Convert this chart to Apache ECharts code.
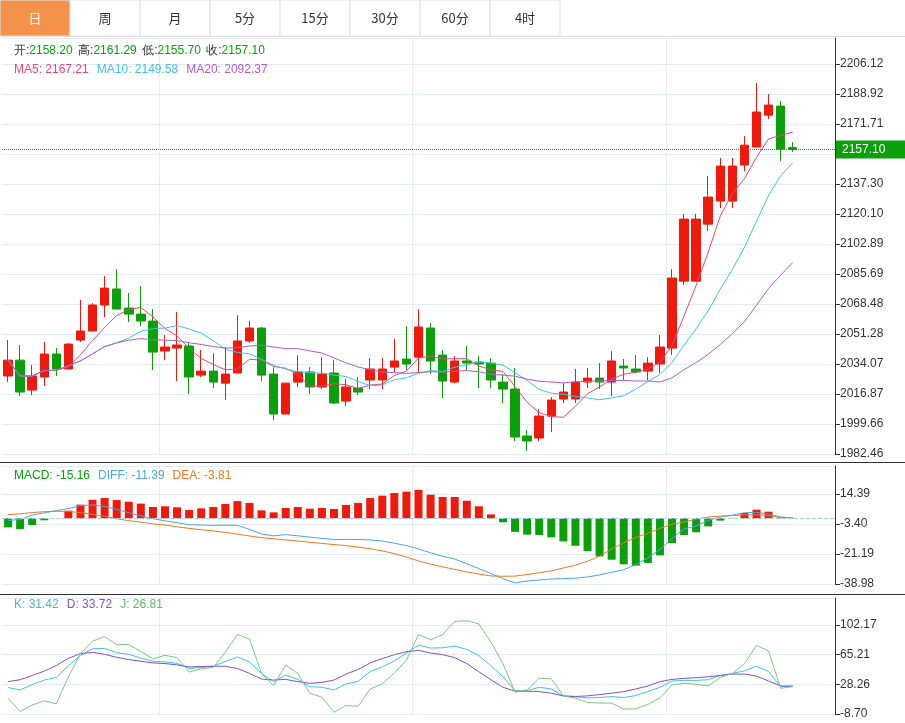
<!DOCTYPE html>
<html><head><meta charset="utf-8">
<script src="https://cdn.jsdelivr.net/npm/echarts@6/dist/echarts.min.js"></script>
<style>html,body{margin:0;padding:0;background:#fff}#chartBox{width:905px;height:723px}</style>
</head><body><div id="chartBox"></div>
<script>
// 日K 数据 [开, 收, 低, 高]
const candles = [
[2027.2,2036.3,2023.7,2047.8],[2036.3,2018.0,2015.7,2045.0],[2019.1,2027.2,2016.3,2033.5],[2026.6,2039.8,2021.4,2046.7],
[2039.8,2031.2,2027.2,2043.2],[2031.2,2045.5,2031.2,2046.1],[2047.8,2053.0,2046.7,2070.8],[2053.0,2067.9,2053.0,2069.0],
[2067.9,2077.6,2061.0,2084.5],[2077.1,2065.6,2065.6,2088.5],[2066.2,2062.7,2058.1,2074.8],[2062.7,2058.7,2055.8,2078.8],
[2058.7,2040.9,2030.6,2065.6],[2041.5,2043.8,2036.3,2050.7],[2043.2,2045.0,2024.3,2063.9],[2044.4,2026.6,2016.8,2046.7],
[2027.7,2030.0,2026.6,2042.1],[2030.0,2023.7,2020.3,2040.3],[2023.1,2028.3,2013.4,2043.8],[2028.9,2047.3,2028.9,2062.1],
[2047.3,2054.7,2046.1,2058.7],[2054.7,2027.7,2024.3,2055.3],[2028.3,2005.4,2001.9,2032.3],[2005.4,2023.1,2005.1,2023.4],
[2023.7,2029.5,2020.9,2039.2],[2029.5,2020.9,2016.8,2032.3],[2020.9,2028.3,2019.7,2038.0],[2028.9,2011.7,2011.1,2036.3],
[2012.8,2020.9,2010.0,2025.4],[2020.3,2018.0,2016.3,2026.6],[2024.9,2031.2,2019.7,2037.5],[2024.9,2031.2,2019.7,2037.5],
[2032.3,2035.8,2029.5,2048.4],[2036.9,2034.1,2030.6,2055.8],[2038.0,2055.3,2029.5,2065.6],[2054.7,2035.8,2028.3,2057.6],
[2039.2,2024.3,2014.5,2042.1],[2023.7,2035.8,2023.1,2038.6],[2035.8,2034.6,2030.6,2044.4],[2035.2,2034.1,2020.3,2038.6],
[2034.6,2024.9,2020.3,2037.5],[2023.7,2019.7,2011.7,2028.3],[2019.7,1992.2,1989.9,2031.8],[1992.8,1989.9,1984.2,1996.2],
[1991.6,2004.2,1989.9,2008.2],[2004.2,2013.4,1995.0,2015.1],[2014.0,2018.0,2011.7,2023.1],[2014.0,2023.7,2011.7,2031.2],
[2023.7,2026.0,2020.3,2031.8],[2026.0,2023.7,2019.7,2034.6],[2023.7,2035.8,2015.7,2041.5],[2032.9,2031.8,2024.9,2036.9],
[2031.2,2029.5,2028.9,2039.2],[2030.0,2034.6,2024.9,2038.0],[2034.1,2043.8,2028.9,2050.7],[2043.2,2083.4,2039.2,2088.5],
[2081.6,2117.2,2079.4,2120.1],[2081.6,2117.2,2081.6,2120.1],[2114.3,2129.8,2110.3,2141.9],[2127.5,2147.6,2123.5,2152.2],
[2127.5,2147.6,2123.5,2152.2],[2148.2,2159.6,2144.7,2164.8],[2158.5,2178.6,2158.5,2195.2],[2176.8,2182.6,2174.6,2188.9],
[2182.0,2157.3,2150.5,2184.9],[2158.2,2157.1,2155.7,2161.29]
];
// MACD 柱 / DIFF / DEA
const macdBars = [-5.4,-6.4,-4.0,-1.2,0,4.5,8.1,11.0,12.0,10.8,9.8,8.7,6.7,7.1,6.5,4.9,5.9,6.7,8.5,10.2,9.1,4.7,3.5,6.1,6.7,5.7,6.1,5.5,7.9,9.1,12.0,13.4,15.0,15.8,16.8,
14.0,12.6,12.6,10.4,7.1,2.3,-2.4,-8.1,-9.7,-9.9,-11.3,-13.7,-16.3,-19.4,-22.6,-24.6,-27.3,-28.1,-26.5,-22.0,-14.7,-9.9,-8.3,-4.8,-1.4,0.2,3.1,5.1,3.9,0.5,0.2];
const diffLine = [-1.2,-0.8,2.0,3.2,4.5,5.8,7.5,7.9,7.0,5.3,3.3,1.4,-0.3,-1.5,-2.6,-3.8,-4.0,-4.2,-4.1,-4.2,-6.6,-9.3,-10.4,-9.7,-10.4,-11.2,-11.9,-12.6,-12.5,-12.6,-12.8,-13.5,-14.8,-16.2,-18.2,
-20.5,-22.5,-24.2,-27.0,-29.8,-32.8,-35.8,-38.3,-37.2,-36.6,-36.0,-35.8,-35.5,-34.8,-33.6,-32.0,-30.5,-27.5,-23.5,-18.5,-12.0,-6.3,-4.6,-1.2,0.7,1.9,3.3,3.5,2.5,0.8,0.2];
const deaLine = [2.2,2.6,3.4,3.9,4.1,4.1,3.3,2.3,1.2,-0.3,-1.4,-2.3,-3.3,-4.0,-5.1,-6.0,-6.8,-7.5,-8.4,-9.4,-10.5,-11.5,-12.2,-12.8,-13.5,-14.2,-14.9,-15.6,-16.2,-17.1,-18.1,-19.3,-21.0,-23.0,-25.3,
-27.2,-28.8,-30.3,-31.8,-33.1,-34.2,-34.4,-34.3,-33.4,-32.3,-31.2,-29.5,-27.8,-25.5,-22.5,-18.2,-14.5,-11.5,-8.8,-6.0,-3.5,-2.2,-0.5,0.7,1.3,1.6,2.0,2.1,1.5,0.5,0.2];
// KDJ
const kLine = [24.2,21.3,27.9,33.6,36.9,51.3,64.4,72.6,73.0,67.7,65.6,61.1,57.0,56.2,54.5,48.0,49.2,50.8,56.6,62.3,56.2,41.8,31.6,39.8,34.4,25.4,24.6,21.3,28.7,32.0,44.3,50.0,57.4,67.3,77.1,
73.4,73.8,75.9,71.8,64.0,51.3,37.7,20.1,20.5,24.6,22.5,13.5,12.7,11.4,11.8,13.1,11.8,14.3,19.2,24.6,32.4,33.2,33.2,34.0,39.3,41.8,45.1,50.8,44.3,25.4,26.0];
const dLine = [31.6,34.0,39.3,44.7,51.7,60.7,66.5,68.1,65.6,61.9,59.1,57.0,55.0,54.1,52.5,50.0,50.4,50.8,50.8,48.0,41.8,34.8,33.6,34.4,31.6,29.5,30.7,33.6,41.0,46.7,55.0,60.3,65.2,68.9,70.6,
67.3,65.2,61.5,54.1,43.9,34.0,24.6,19.7,19.7,19.2,17.2,13.9,13.1,13.9,15.5,17.2,19.2,22.5,26.2,31.6,34.4,35.7,36.5,37.7,39.3,41.0,41.0,38.5,32.4,26.2,26.0];
const jLine = [11.0,-5.4,2.4,7.7,4.0,37.7,66.5,82.0,87.8,77.5,77.9,69.3,59.9,64.4,61.5,43.5,47.6,49.2,68.5,90.3,84.9,41.8,26.6,52.1,41.8,17.2,12.3,-6.6,2.0,0.8,22.5,28.7,42.6,58.2,90.3,
83.7,90.3,106.7,107.5,103.4,80.8,54.1,18.4,21.3,35.7,35.2,13.9,11.0,5.7,4.9,4.9,-2.5,-2.1,3.2,11.4,27.4,29.5,28.3,26.2,36.9,41.8,54.1,76.7,69.7,23.3,25.4];
const priceTicks = [1982.46, 17.2046];   // 起点, 间隔
const macdTicks = [-38.98, 17.79];
const kdjTicks = [-8.70, 36.957];
const tabs = ['日','周','月','5分','15分','30分','60分','4时'];

const RED = '#f01a0c', GREEN = '#0aa00a';
const closes = candles.map(c => c[1]);
const cats = closes.map((c, i) => 'd' + i).concat(['', '', '']);

//均线
function ma(n){
	return closes.map((c, i) => {
		let s = 0, k = 0;
		for (let j = Math.max(0, i - n + 1); j <= i; j++) { s += closes[j]; k++; }
		return +(s / k).toFixed(2);
	});
}

const fmt = v => v.toFixed(2);
function yAx(idx, t, max){
	return {
		type: 'value', gridIndex: idx, position: 'right', scale: true,
		min: t[0], max: max, interval: t[1],
		axisLine: { show: true, lineStyle: { color: '#333' } },
		axisTick: { show: true, lineStyle: { color: '#333' } },
		axisLabel: { color: '#333', fontSize: 12, formatter: fmt, showMaxLabel: false, margin: 5 },
		splitLine: { lineStyle: { color: '#e3ecf3' } }
	};
}
function xAx(idx){
	return {
		type: 'category', gridIndex: idx, data: cats, boundaryGap: true,
		axisLine: { show: false }, axisTick: { show: false }, axisLabel: { show: false },
		splitLine: { show: true, interval: (i) => i == 13 || i == 34 || i == 55, lineStyle: { color: '#e3ecf3' } }
	};
}
const line = (name, data, color, x, y) => ({
	name, type: 'line', data, xAxisIndex: x, yAxisIndex: y, symbol: 'none', smooth: false,
	lineStyle: { width: 1, color }, itemStyle: { color }, animation: false
});

let myChart = echarts.init(document.getElementById('chartBox'));
let tabGraphics = [{ type: 'rect', shape: { x: 0, y: 36, width: 905, height: 1 }, style: { fill: '#ddd' } }];
tabs.forEach((t, i) => {
	tabGraphics.push({ type: 'rect', shape: { x: i * 70, y: 0, width: 70, height: 36 },
		style: { fill: i == 0 ? '#f5924b' : '#fff', stroke: '#e2e2e2', lineWidth: 1 } });
	tabGraphics.push({ type: 'text', x: i * 70 + 35, y: 18,
		style: { text: t, fill: i == 0 ? '#fff' : '#333', font: '13px "Noto Sans CJK SC"', align: 'center', verticalAlign: 'middle' } });
});
const txt = (x, y, rich, text) => ({ type: 'text', x, y, z: 50, style: { text, rich, font: '12px "Noto Sans CJK SC"', verticalAlign: 'middle' } });
tabGraphics.push(
	{ type: 'rect', shape: { x: 0, y: 462, width: 905, height: 1 }, style: { fill: '#333' } },
	{ type: 'rect', shape: { x: 0, y: 594, width: 905, height: 1 }, style: { fill: '#333' } },
	txt(14, 51, { a: { fill: '#333', fontSize: 12 }, g: { fill: GREEN, fontSize: 12 } },
		'{a|开:}{g|2158.20}  {a|高:}{g|2161.29}  {a|低:}{g|2155.70}  {a|收:}{g|2157.10}'),
	txt(14, 70, { p: { fill: '#e8457c', fontSize: 12 }, c: { fill: '#3fc4dc', fontSize: 12 }, m: { fill: '#b05ccc', fontSize: 12 } },
		'{p|MA5: 2167.21}   {c|MA10: 2149.58}   {m|MA20: 2092.37}'),
	txt(14, 476, { g: { fill: GREEN, fontSize: 12 }, b: { fill: '#4aa6e6', fontSize: 12 }, o: { fill: '#f07820', fontSize: 12 } },
		'{g|MACD: -15.16}   {b|DIFF: -11.39}   {o|DEA: -3.81}'),
	txt(14, 605, { k: { fill: '#45b4e0', fontSize: 12 }, d: { fill: '#8450c8', fontSize: 12 }, j: { fill: '#5cbc5c', fontSize: 12 } },
		'{k|K: 31.42}   {d|D: 33.72}   {j|J: 26.81}')
);

let option = {
	animation: false,
	backgroundColor: '#fff',
	grid: [
		{ left: 2, right: 70, top: 38, height: 416 },
		{ left: 2, right: 70, top: 466, height: 118 },
		{ left: 2, right: 70, top: 598, height: 116 }
	],
	xAxis: [xAx(0), xAx(1), xAx(2)],
	yAxis: [yAx(0, priceTicks, 2221.05), yAx(1, macdTicks, 31.0), yAx(2, kdjTicks, 135.8)],
	graphic: tabGraphics,
	series: [
		{
			type: 'candlestick', data: candles, barWidth: 9,
			itemStyle: { color: RED, color0: GREEN, borderColor: RED, borderColor0: GREEN, borderWidth: 1 },
			markLine: {
				symbol: 'none', silent: true, animation: false,
				data: [{ yAxis: 2157.1 }],
				lineStyle: { type: 'dotted', color: GREEN, width: 1 },
				label: { show: false }
			}
		},
		line('MA5', ma(5), '#e8457c', 0, 0),
		line('MA10', ma(10), '#3fc4dc', 0, 0),
		line('MA20', ma(20), '#b05ccc', 0, 0),
		{
			type: 'bar', xAxisIndex: 1, yAxisIndex: 1, barWidth: 8,
			data: macdBars.map(v => ({ value: v, itemStyle: { color: v >= 0 ? RED : GREEN } })),
			markLine: { symbol: 'none', silent: true, data: [{ yAxis: 0 }], lineStyle: { type: 'dashed', color: '#9fd0ee', width: 1 }, label: { show: false } }
		},
		line('DIFF', diffLine, '#4aa6e6', 1, 1),
		line('DEA', deaLine, '#f07820', 1, 1),
		line('K', kLine, '#3fc4dc', 2, 2),
		line('D', dLine, '#8450c8', 2, 2),
		line('J', jLine, '#7cc87c', 2, 2)
	]
};
myChart.setOption(option, true);
//最新价标签
let py = myChart.convertToPixel({ yAxisIndex: 0 }, 2157.1);
myChart.setOption({ graphic: tabGraphics.concat([
	{ type: 'rect', z: 100, shape: { x: 836, y: py - 9, width: 69, height: 18 }, style: { fill: GREEN } },
	{ type: 'text', z: 101, x: 842, y: py, style: { text: '2157.10', fill: '#fff', font: '12px sans-serif', verticalAlign: 'middle' } }
]) });
</script></body></html>
